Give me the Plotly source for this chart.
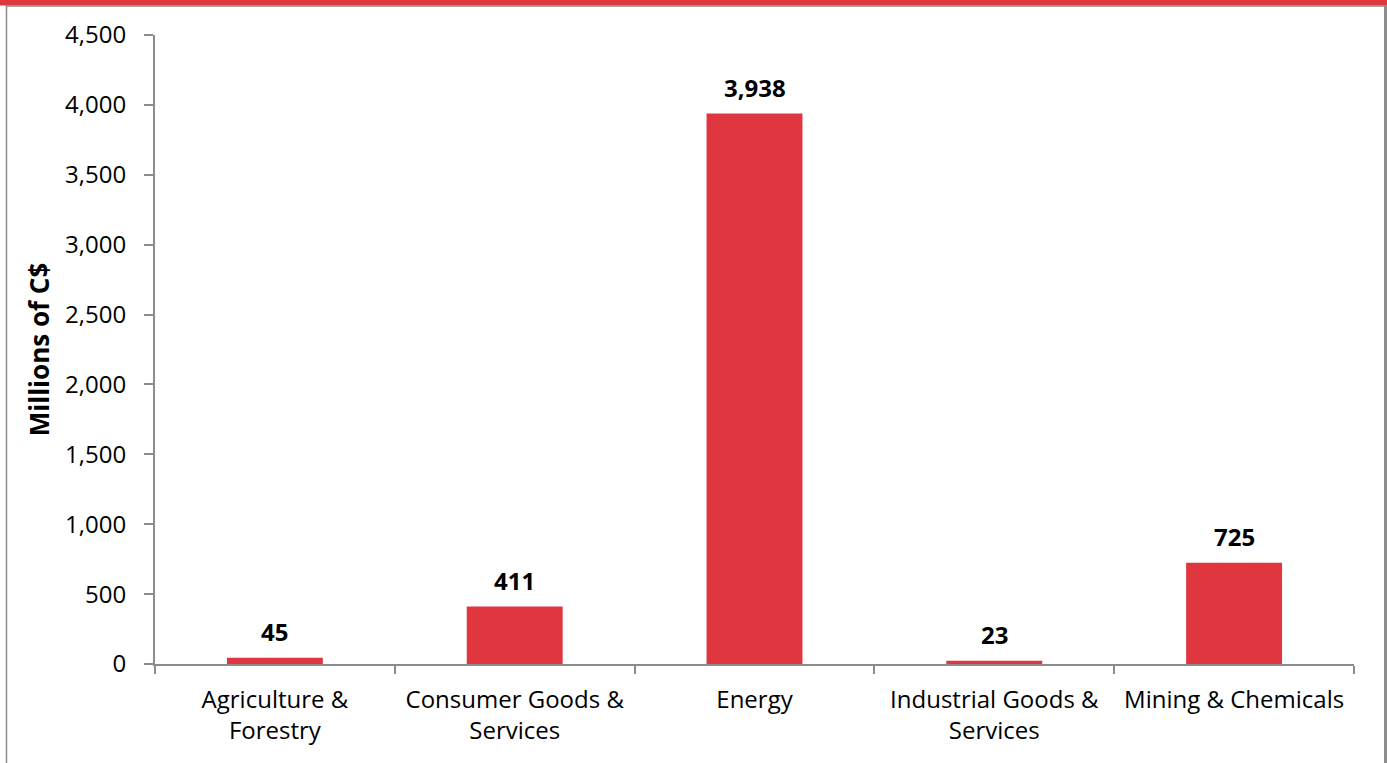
import plotly.graph_objects as go

categories = ["Agriculture &<br>Forestry", "Consumer Goods &<br>Services", "Energy",
              "Industrial Goods &<br>Services", "Mining & Chemicals"]
values = [45, 411, 3938, 23, 725]
tick_vals = [0, 500, 1000, 1500, 2000, 2500, 3000, 3500, 4000, 4500]

W, H = 1387, 763
L, R, T, B = 155, 33, 35, 99
pw, ph = W - L - R, H - T - B
RED = "#E03640"
GRAY = "#8C8C8C"
FONT = "Open Sans, Lato, sans-serif"

def px_x(x):
    return (x - L) / pw

def px_y(y):
    return (H - B - y) / ph

fig = go.Figure()
fig.add_trace(go.Bar(x=categories, y=values, marker_color=RED, width=0.4,
                     marker_line_width=0, hoverinfo="skip"))

annotations = []
for c, v in zip(categories, values):
    annotations.append(dict(x=c, y=v, xref="x", yref="y", text=f"<b>{v:,}</b>",
                            showarrow=False, yanchor="bottom", yshift=8,
                            font=dict(family=FONT, size=24, color="black")))

shapes = [
    dict(type="rect", xref="paper", yref="paper", x0=px_x(0), x1=px_x(W), y0=px_y(0), y1=px_y(5.5),
         fillcolor=RED, line_width=0, layer="above"),
    dict(type="line", xref="paper", yref="paper", x0=px_x(6), x1=px_x(W), y0=px_y(6), y1=px_y(6),
         line=dict(color=GRAY, width=1.5)),
    dict(type="line", xref="paper", yref="paper", x0=px_x(6.5), x1=px_x(6.5), y0=px_y(5), y1=px_y(H),
         line=dict(color=GRAY, width=1.5)),
    dict(type="line", xref="paper", yref="paper", x0=px_x(1385.5), x1=px_x(1385.5), y0=px_y(5), y1=px_y(H),
         line=dict(color=GRAY, width=3)),
]

fig.update_layout(
    width=W, height=H,
    margin=dict(l=L, r=R, t=T, b=B, autoexpand=False),
    paper_bgcolor="white", plot_bgcolor="white",
    showlegend=False,
    font=dict(family=FONT, size=24, color="black"),
    annotations=annotations,
    shapes=shapes,
    bargap=0.6,
)
fig.update_xaxes(
    showline=True, linecolor=GRAY, linewidth=2,
    ticks="outside", tickson="boundaries", ticklen=8, tickcolor=GRAY, tickwidth=2,
    tickfont=dict(family=FONT, size=24, color="black"),
    ticklabelstandoff=13,
    showgrid=False, zeroline=False, fixedrange=True,
)
fig.update_yaxes(
    range=[0, 4500], tickvals=tick_vals, tickformat=",d",
    showline=True, linecolor=GRAY, linewidth=2,
    ticks="outside", ticklen=9, tickcolor=GRAY, tickwidth=2,
    tickfont=dict(family=FONT, size=24, color="black"),
    ticklabelstandoff=13,
    showgrid=False, zeroline=False, fixedrange=True,
    title=dict(text="<b>Millions of C$</b>", font=dict(family=FONT, size=26, color="black"), standoff=8),
)

fig.write_html("out.html", config={"displayModeBar": False})
